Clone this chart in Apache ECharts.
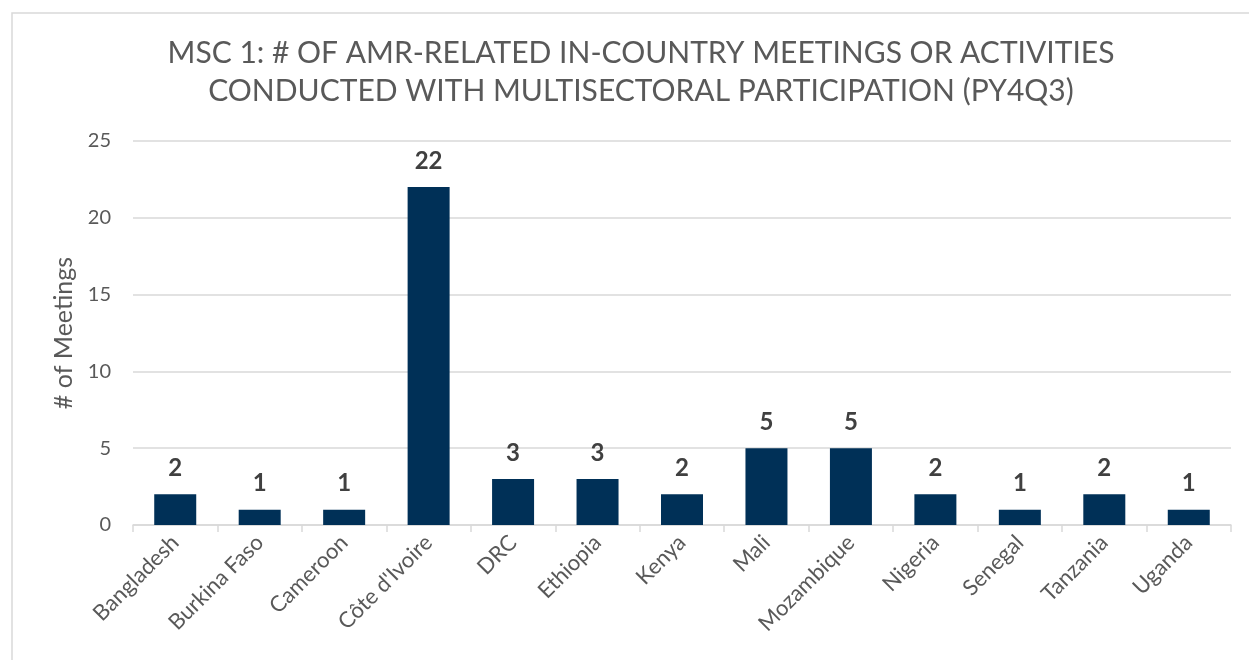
<!DOCTYPE html>
<html>
<head>
<meta charset="utf-8">
<script src="https://cdn.jsdelivr.net/npm/echarts@6/dist/echarts.min.js"></script>
<style>html,body{margin:0;padding:0;background:#fff;}#c{width:1249px;height:660px;}</style>
</head>
<body>
<div id="c"></div>
<script>
const titleLines = ["MSC 1: # OF AMR-RELATED IN-COUNTRY MEETINGS OR ACTIVITIES", "CONDUCTED WITH MULTISECTORAL PARTICIPATION (PY4Q3)"];
const yAxisName = "# of Meetings";
const countries = ["Bangladesh","Burkina Faso","Cameroon","Côte d'Ivoire","DRC","Ethiopia","Kenya","Mali","Mozambique","Nigeria","Senegal","Tanzania","Uganda"];
const meetings = [2,1,1,22,3,3,2,5,5,2,1,2,1];
const yTicks = [0,5,10,15,20,25];

const FONT = "'Gill Sans','Gill Sans MT',Lato,'Open Sans',sans-serif";
const chart = echarts.init(document.getElementById('c'), null, {renderer:'canvas'});
chart.setOption({
  animation:false,
  backgroundColor:'#fff',
  graphic:[{type:'rect',shape:{x:12,y:13,width:1260,height:700},style:{fill:'none',stroke:'#d9d9d9',lineWidth:1.5},silent:true}],
  title:{
    text:titleLines.join('\n'),
    left:636, textAlign:'center', top:29,
    textStyle:{fontFamily:FONT,fontSize:30,fontWeight:'normal',color:'#595959',lineHeight:38}
  },
  grid:{left:133,right:18,top:141,bottom:135,containLabel:false},
  xAxis:{
    type:'category',data:countries,
    axisLine:{lineStyle:{color:'#d9d9d9',width:1.5}},
    axisTick:{show:true,length:7,lineStyle:{color:'#d9d9d9',width:1.5}},
    axisLabel:{rotate:45,fontFamily:FONT,fontSize:22,color:'#595959',margin:14,interval:0}
  },
  yAxis:{
    type:'value',min:yTicks[0],max:yTicks[yTicks.length-1],interval:5,
    name:yAxisName,nameLocation:'middle',nameGap:50,
    nameTextStyle:{fontFamily:FONT,fontSize:25,color:'#595959'},
    axisLine:{show:false},axisTick:{show:false},
    axisLabel:{fontFamily:FONT,fontSize:20,color:'#595959',margin:22},
    splitLine:{lineStyle:{color:'#d9d9d9',width:1.5}}
  },
  series:[{
    type:'bar',data:meetings,barWidth:42,
    itemStyle:{color:'#003057'},
    label:{show:true,position:'top',distance:14,fontFamily:FONT,fontSize:24,fontWeight:'bold',color:'#404040'}
  }]
});
</script>
</body>
</html>
